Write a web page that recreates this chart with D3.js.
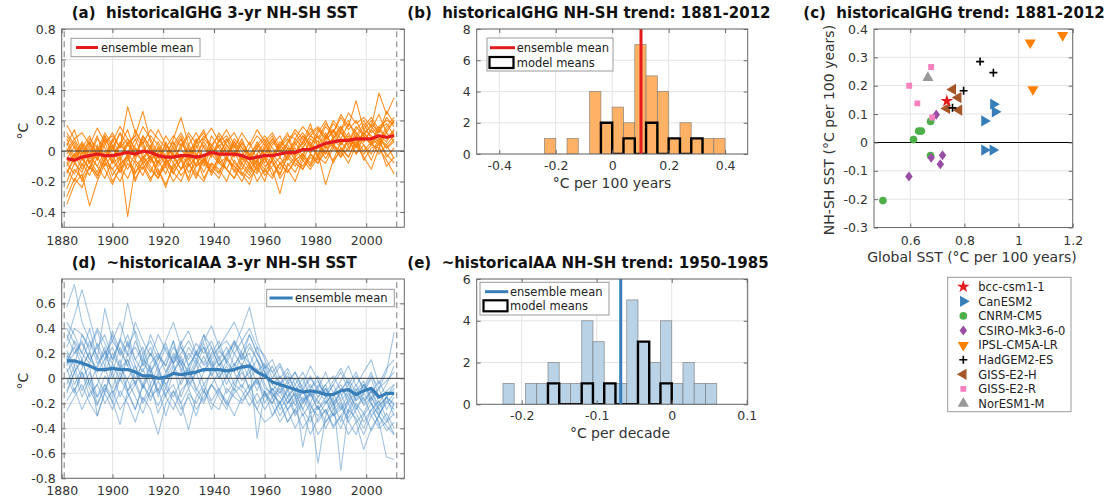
<!DOCTYPE html>
<html><head><meta charset="utf-8">
<script src="https://cdn.jsdelivr.net/npm/d3@7"></script>
<style>body{margin:0;background:#fff}svg{display:block}</style>
</head><body><svg id="c" width="1111" height="499"></svg>
<script>
// ---------- DATA ----------
const years = [1882,1885,1888,1891,1894,1897,1900,1903,1906,1909,1912,1915,1918,1921,1924,1927,1930,1933,1936,1939,1942,1945,1948,1951,1954,1957,1960,1963,1966,1969,1972,1975,1978,1981,1984,1987,1990,1993,1996,1999,2002,2005,2008,2011];
// values in hundredths of °C
const ghgMean = [-5,-6,-4,-3,-2,-3,-3,-2,-1,-2,0,-1,-3,-4,-4,-3,-3,-4,-3,-1,-2,-2,-2,-3,-5,-4,-3,-3,-2,-1,-1,1,1,3,5,6,7,7,8,8,8,10,9,10];
const ghgMembers = [
[-35,-22,-15,-36,-20,-8,-12,-5,-43,-10,-4,-12,-18,-8,-15,-5,-20,-10,-6,-14,-3,-12,-18,-8,-14,-2,-10,-6,-15,-4,-10,-2,-8,3,-5,4,-2,8,3,12,5,10,2,8],
[17,8,12,4,15,6,10,2,29,12,5,14,8,2,10,3,12,5,8,15,6,10,2,12,4,14,6,12,3,10,8,16,10,15,8,20,14,25,18,22,16,38,24,35],
[-10,-2,5,-8,2,-5,8,-3,5,10,26,6,-5,2,-8,5,-2,8,-6,4,10,-2,6,-4,-8,4,-3,6,0,5,12,4,15,8,18,12,22,14,20,10,18,12,22,16],
[-25,-12,-18,-6,-14,-2,-16,-8,-4,-18,-10,-20,-6,-15,-2,-12,-8,-18,-5,-10,-15,-4,-12,-20,-10,-15,-5,-12,-28,-8,-14,-4,-10,-2,-22,-6,0,-8,4,-4,-12,2,-6,-15],
[5,-6,2,10,-3,8,0,12,4,-2,6,-8,3,-5,8,22,4,-3,6,-2,3,8,-4,5,-6,2,8,-2,4,12,-3,6,18,2,10,4,12,6,16,10,4,14,8,12],
[-8,-15,-5,-12,4,-10,-2,-14,-6,2,-8,-3,-15,-6,-12,-2,-10,-4,-14,-2,-8,-12,-1,-10,-16,-6,-12,-2,-8,-4,2,-6,4,10,2,8,16,4,12,6,14,8,4,10],
[10,2,-6,4,-4,6,-8,4,-2,8,-5,4,-8,-2,6,-6,2,-10,4,-4,8,-2,4,-8,-2,-14,2,-6,4,-2,8,2,10,6,16,10,4,12,2,14,10,6,16,22],
[-15,-5,-20,-10,-18,-4,-12,-20,-8,-15,-3,-10,-18,-6,-14,-20,-8,-16,-5,-12,-18,-6,-10,-15,-22,-8,-14,-6,-18,-10,-4,-12,-2,-6,4,-8,2,-4,8,0,6,-2,4,-5],
[0,8,-2,6,-6,4,12,2,8,-4,10,2,-4,4,-2,8,-6,2,10,4,-2,6,12,2,-4,6,-2,8,2,-6,4,10,2,14,8,18,12,6,14,20,12,16,8,14],
[-20,-8,-14,-2,-10,-18,-6,-14,-2,-8,-16,-4,-12,-22,-10,-4,-14,-8,-2,-16,-6,-12,-18,-4,-12,-6,-16,-10,-4,-12,-20,-6,-12,-4,-8,2,-4,8,-2,4,-6,6,-2,-8],
[-5,3,-10,2,-6,10,-4,4,14,-2,8,0,-8,6,-4,2,10,-2,-10,2,-6,4,-2,8,-4,2,-8,4,10,-2,6,-4,8,4,12,2,14,20,8,16,22,14,18,10],
[8,-4,6,-2,10,-6,2,12,-4,4,16,8,-2,10,2,-6,4,12,2,-4,6,14,4,-6,2,10,4,-4,6,2,-2,10,4,-4,6,14,4,10,2,12,6,16,20,18],
[-12,-20,-8,-16,-4,-12,-22,-10,-18,-6,-12,-4,-16,-10,-20,-12,-4,-14,-20,-8,-14,-4,-10,-16,-8,-20,-12,-18,-8,-14,-6,-2,-10,4,-2,8,2,-4,6,-2,4,8,-4,2],
[2,-8,4,-4,8,2,-6,6,-2,14,4,-6,2,-10,0,8,-4,4,-8,10,2,-6,6,0,-10,-2,6,-4,2,8,-2,6,12,16,10,14,8,18,12,6,14,24,12,20],
[-30,-18,-24,-10,-16,-6,-20,-12,-4,-14,-8,-18,-12,-24,-8,-16,-10,-4,-18,-8,-12,-20,-6,-14,-18,-10,-4,-16,-8,-14,-6,-10,-2,-8,0,-6,6,0,10,4,-2,8,2,6],
[-2,6,-4,-12,0,12,4,-4,6,-6,10,2,14,4,-4,2,-8,6,14,-2,4,-4,8,2,-2,-8,4,10,0,-4,6,12,4,-2,8,12,24,16,33,14,20,12,26,18],
[-14,-4,2,-8,-16,-6,4,-10,-2,-20,-6,2,-10,-4,-14,-6,-18,-2,-8,-14,-4,2,-8,-12,-2,-10,-20,-4,-12,2,-6,-2,6,-4,10,4,0,8,-2,10,4,2,12,6],
[4,14,-2,8,2,-4,6,16,8,2,-2,10,4,-6,4,12,2,-4,8,2,12,4,-4,6,-2,4,10,2,-4,6,14,8,-2,12,20,8,14,2,10,18,8,4,14,20],
[-8,-2,-12,-4,-10,0,-8,-4,-12,-2,-6,-14,-2,-8,-4,-12,-2,-10,-6,2,-8,-4,-14,-2,-6,-12,-4,-8,-16,-2,-8,-12,-4,-8,2,4,-4,2,8,-6,2,4,-10,-4],
[12,4,-4,6,-2,10,2,-6,4,10,2,-4,6,-4,2,10,-2,6,12,2,-4,8,0,-4,6,-6,2,8,-2,4,-4,2,10,6,-2,10,16,8,4,12,16,10,6,14]
];
const aaMean = [14,14,12,10,7,7,8,7,7,5,2,2,0,1,4,3,4,5,7,7,7,6,7,9,10,5,2,-3,-5,-7,-9,-11,-10,-11,-13,-13,-10,-9,-13,-10,-8,-15,-12,-12];
const aaMembers = [
[57,75,45,30,12,20,5,25,10,-5,15,8,-10,5,20,12,-2,10,25,8,15,0,20,30,12,-5,10,-15,-5,-20,-10,-25,-12,-20,-8,-22,-15,-5,-18,-12,0,-20,-10,-5],
[30,50,71,48,25,35,15,30,60,35,10,20,5,15,30,10,25,15,5,20,30,12,25,40,57,30,15,0,10,-5,5,-10,0,-8,5,-12,-2,10,-6,5,15,-5,8,15],
[-26,-15,-5,-20,-30,-12,-25,-10,-20,-35,-15,-25,-45,-20,-10,-25,-15,-30,-10,-20,-25,-8,-15,-20,-10,-25,-35,-30,-20,-35,-25,-40,-30,-45,-35,-28,-40,-25,-32,-45,-30,-40,-35,-28],
[20,5,15,-5,10,25,0,15,-10,5,20,-5,10,-15,5,15,-8,5,18,2,12,-5,10,20,5,-10,5,-12,-20,-8,-22,-10,-25,-15,-5,-20,-12,-28,-15,-5,-20,-30,-18,-25],
[10,30,20,40,15,56,30,20,35,15,25,5,15,30,45,25,10,20,35,15,25,30,20,10,25,15,0,10,-5,5,-10,-5,10,-2,-15,-5,5,-10,2,-8,5,-15,-5,10],
[-5,10,-10,5,-15,-5,-20,0,-12,-25,-5,-15,-8,-30,-10,-20,-41,-15,-5,-18,-8,-22,-12,-5,-15,-25,-10,-30,-18,-35,-25,-15,-28,-22,-35,-25,-18,-32,-20,-28,-15,-25,-35,-20],
[35,20,30,15,25,10,35,18,28,10,-5,12,20,5,15,30,10,20,12,25,10,18,28,15,20,5,12,-5,-12,-2,-15,-8,-20,-5,-12,-25,-8,-15,-5,-18,-10,-22,-15,-8],
[5,15,0,10,-30,-10,5,-15,0,10,-8,5,-12,0,12,-5,8,-10,5,15,0,10,-5,5,-8,0,-12,-20,-10,-25,-15,-30,-20,-35,-25,-40,-30,-20,-35,-28,-42,-30,-38,-45],
[15,25,10,20,5,15,25,10,30,15,5,20,10,25,12,20,30,18,25,10,22,15,30,20,12,-48,-10,-20,-5,-15,-8,-20,-10,-18,-28,-15,-74,-25,-12,-20,-10,-25,-15,-20],
[-10,5,-15,0,-20,-8,-18,-37,-10,-25,-5,-18,-2,-15,-25,-10,-2,-12,-20,-5,-15,-25,-8,-18,-10,-2,-15,-8,-25,-15,-30,-20,-12,-25,-18,-30,-22,-35,-25,-15,-30,-22,-15,-30],
[25,40,35,22,38,20,30,45,25,38,20,30,15,28,12,25,15,28,20,30,15,25,10,22,35,20,8,15,0,8,-5,5,-8,2,-12,-2,8,-5,5,-10,2,-8,-2,5],
[8,-10,5,-15,-5,10,-12,0,15,-5,8,-10,3,-8,10,-15,0,12,-5,5,-10,2,12,-2,5,15,-5,-15,-8,-20,-12,-55,-25,-68,-30,-20,-35,-15,-28,-40,-25,-35,-63,-65],
[-18,-8,-25,-12,-5,-20,-10,-25,-15,-5,-20,-10,-22,-8,-18,-30,-12,-20,-8,-25,-10,-18,-30,-15,-5,-20,-12,-22,-35,-25,-40,-28,-45,-32,-25,-38,-30,-45,-35,-57,-40,-30,-42,-35],
[12,20,28,15,8,22,12,30,18,25,12,5,18,10,25,15,5,22,10,18,25,12,5,18,28,15,5,-5,2,-10,0,-12,-5,-15,-8,-20,-10,0,-12,-5,-15,-8,5,37],
[0,-12,5,-8,-22,-5,-15,5,-10,-2,-18,-5,-28,-12,-5,-20,-8,-25,-15,-5,-12,-20,-5,-10,-22,-12,-25,-15,-30,-20,-12,-25,-35,-22,-40,-28,-20,-35,-45,-30,-20,-38,-28,-40],
[22,10,35,25,40,28,15,32,20,45,30,18,35,22,12,28,38,20,30,42,25,35,45,30,40,25,18,5,12,-2,5,-8,2,-12,-5,2,-10,-2,-18,-5,-12,-2,-15,-5],
[40,28,15,30,18,5,20,8,15,0,12,25,8,-5,5,18,2,15,28,12,0,15,5,-8,10,25,5,-10,-2,-15,-5,-18,-8,-2,-15,-5,-18,-10,-25,-12,-20,-30,-15,-22],
[-12,5,15,-5,-15,2,-8,10,-2,-15,-28,-10,5,-5,-15,-2,10,-8,-18,-5,5,-12,-2,8,-10,0,-20,-8,-15,-25,-18,-10,-22,-30,-20,-12,-25,-18,-8,-22,-15,-28,-20,-12],
[45,35,20,12,28,15,38,22,10,30,15,35,20,10,30,5,20,12,35,25,10,20,30,15,35,20,10,5,-5,2,-10,0,-15,-8,-20,-12,-5,-20,-10,-2,-18,-8,-25,-15],
[18,-5,8,22,0,-12,12,-2,20,5,-8,10,-15,2,18,8,-5,5,-12,8,18,2,-10,12,0,8,-8,-12,-20,-10,-28,-18,-12,-25,-15,-30,-25,-12,-22,-35,-25,-18,-32,-45]
];
const trendPeriod = [1881, 2012];

const ghgEdges = [-0.24,-0.20,-0.16,-0.12,-0.08,-0.04,0,0.04,0.08,0.12,0.16,0.20,0.24,0.28,0.32,0.36,0.40];
const ghgCounts = [1,0,1,0,4,2,3,2,7,5,4,1,2,1,1,1];
const ghgModelEdges = [-0.04,0,0.04,0.08,0.12,0.16,0.20,0.24,0.28,0.32];
const ghgModelCounts = [2,0,1,0,2,0,1,0,1];
const ghgTrendMean = 0.102;

const aaEdges = [-0.225,-0.21,-0.195,-0.18,-0.165,-0.15,-0.135,-0.12,-0.105,-0.09,-0.075,-0.06,-0.045,-0.03,-0.015,0,0.015,0.03,0.045,0.06];
const aaCounts = [1,0,1,1,2,1,1,4,3,1,1,5,3,2,4,1,2,1,1];
const aaModelEdges = [-0.165,-0.15,-0.135,-0.12,-0.105,-0.09,-0.075,-0.06,-0.045,-0.03,-0.015,0];
const aaModelCounts = [1,0,0,1,0,1,0,0,3,0,1];
const aaTrendMean = -0.068;

const modelNames = ["bcc-csm1-1","CanESM2","CNRM-CM5","CSIRO-Mk3-6-0","IPSL-CM5A-LR","HadGEM2-ES","GISS-E2-H","GISS-E2-R","NorESM1-M"];
const globalSST = [
 [0.735],
 [0.907,0.913,0.874,0.874,0.905],
 [0.675,0.631,0.641,0.612,0.675,0.499],
 [0.696,0.677,0.719,0.711,0.595],
 [1.043,1.163,1.053],
 [0.858,0.907,0.797,0.756],
 [0.757,0.777,0.735,0.780],
 [0.677,0.596,0.626,0.681],
 [0.665]
];
const nhshSST = [
 [0.146],
 [0.135,0.108,0.076,-0.027,-0.027],
 [0.074,0.040,0.040,0.010,-0.046,-0.205],
 [0.098,-0.054,-0.045,-0.077,-0.120],
 [0.352,0.378,0.187],
 [0.285,0.246,0.182,0.122],
 [0.187,0.158,0.120,0.114],
 [0.266,0.200,0.138,0.088],
 [0.228]
];
const modelColors = ["#e41a1c","#377eb8","#4daf4a","#984ea3","#ff7f00","#000000","#a65628","#f781bf","#999999"];
const modelMarkers = ["star","right","circle","diamond","down","plus","left","square","up"];

// ---------- DRAWING ----------
const FONT = '"DejaVu Sans", Verdana, sans-serif';
const TICKC = '#333', FRAMEC = '#6a6a6a', GRIDC = '#e4e4e4';
const svg = d3.select('#c');
svg.append('rect').attr('width',1111).attr('height',499).attr('fill','#fff');
const defs = svg.append('defs');
let clipN = 0;
const fmt = d => String(Math.round(d*100)/100);

function panel(x, y, xv, yv, xfmt, yfmt, padB, padL) {
  const g = svg.append('g');
  const [x0,x1] = x.range(), [y0,y1] = y.range();
  g.append('g').selectAll('line').data(xv).join('line')
    .attr('x1',d=>x(d)).attr('x2',d=>x(d)).attr('y1',y1).attr('y2',y0)
    .attr('stroke',GRIDC).attr('stroke-width',1);
  g.append('g').selectAll('line').data(yv).join('line')
    .attr('y1',d=>y(d)).attr('y2',d=>y(d)).attr('x1',x0).attr('x2',x1)
    .attr('stroke',GRIDC).attr('stroke-width',1);
  const id = 'clip'+(clipN++);
  defs.append('clipPath').attr('id',id).append('rect')
    .attr('x',x0).attr('y',y1).attr('width',x1-x0).attr('height',y0-y1);
  const plot = g.append('g').attr('clip-path',`url(#${id})`);
  const top = svg.append('g');
  const style = (ax, showText) => {
    ax.attr('font-family',FONT).attr('font-size',12.5);
    ax.select('.domain').remove();
    ax.selectAll('line').attr('stroke',FRAMEC);
    ax.selectAll('text').attr('fill',TICKC);
    if (!showText) ax.selectAll('text').remove();
  };
  top.append('g').attr('transform',`translate(0,${y0})`)
    .call(d3.axisBottom(x).tickValues(xv).tickFormat(xfmt).tickSizeInner(-4).tickSizeOuter(0).tickPadding(padB))
    .call(a=>style(a,true));
  top.append('g').attr('transform',`translate(0,${y1})`)
    .call(d3.axisTop(x).tickValues(xv).tickSizeInner(-4).tickSizeOuter(0))
    .call(a=>style(a,false));
  top.append('g').attr('transform',`translate(${x0},0)`)
    .call(d3.axisLeft(y).tickValues(yv).tickFormat(yfmt).tickSizeInner(-4).tickSizeOuter(0).tickPadding(padL))
    .call(a=>style(a,true));
  top.append('g').attr('transform',`translate(${x1},0)`)
    .call(d3.axisRight(y).tickValues(yv).tickSizeInner(-4).tickSizeOuter(0))
    .call(a=>style(a,false));
  top.append('rect').attr('x',x0).attr('y',y1).attr('width',x1-x0).attr('height',y0-y1)
    .attr('fill','none').attr('stroke',FRAMEC).attr('stroke-width',1);
  return {plot, top};
}

function title(x, y, txt) {
  svg.append('text').attr('x',x).attr('y',y).attr('font-family',FONT)
    .attr('font-size',15).attr('font-weight','bold').attr('fill','#111')
    .style('white-space','pre').text(txt);
}
function label(x, y, txt, rot) {
  const t = svg.append('text').attr('font-family',FONT).attr('font-size',14)
    .attr('fill','#333').attr('text-anchor','middle').text(txt);
  if (rot) t.attr('transform',`translate(${x},${y}) rotate(-90)`);
  else t.attr('x',x).attr('y',y);
}
function legendBox(x, y, w, h) {
  svg.append('rect').attr('x',x).attr('y',y).attr('width',w).attr('height',h)
    .attr('fill','#fff').attr('stroke','#9a9a9a').attr('stroke-width',1);
}
function legendText(x, y, txt) {
  svg.append('text').attr('x',x).attr('y',y).attr('font-family',FONT)
    .attr('font-size',11.5).attr('fill','#222').text(txt);
}

function tsPanel(members, mean, yDomain, yRange, yv, memberColor, memberOpacity, meanColor, padB) {
  const x = d3.scaleLinear().domain([1880,2015]).range([61.7,404.3]);
  const y = d3.scaleLinear().domain(yDomain).range(yRange);
  const xv = [1880,1900,1920,1940,1960,1980,2000];
  const p = panel(x, y, xv, yv, d=>String(d), d=>d===0?'0':d.toFixed(1), padB, 6);
  const line = d3.line().defined((d,i)=>i<years.length).x((d,i)=>x(years[i])).y(d=>y(d/100));
  p.plot.append('g').selectAll('path').data(members).join('path')
    .attr('d',line).attr('fill','none').attr('stroke',memberColor)
    .attr('stroke-opacity',memberOpacity).attr('stroke-width',1.1).attr('stroke-linejoin','round');
  p.plot.append('line').attr('x1',x.range()[0]).attr('x2',x.range()[1])
    .attr('y1',y(0)).attr('y2',y(0)).attr('stroke','#3a3a3a').attr('stroke-width',1);
  p.plot.append('g').selectAll('line').data(trendPeriod).join('line')
    .attr('x1',d=>x(d)).attr('x2',d=>x(d)).attr('y1',yRange[0]).attr('y2',yRange[1])
    .attr('stroke','#9a9a9a').attr('stroke-width',1.3).attr('stroke-dasharray','6,4');
  p.plot.append('path').datum(mean).attr('d',line).attr('fill','none')
    .attr('stroke',meanColor).attr('stroke-width',3.2).attr('stroke-linejoin','round');
  return {x,y};
}

function histPanel(edges, counts, mEdges, mCounts, meanVal, xDomain, xRange, yMax, yRange, xv, yv, fill, meanColor, padB) {
  const x = d3.scaleLinear().domain(xDomain).range(xRange);
  const y = d3.scaleLinear().domain([0,yMax]).range(yRange);
  const p = panel(x, y, xv, yv, fmt, d=>String(d), padB, 6);
  const bins = counts.map((c,i)=>({x0:edges[i], x1:edges[i+1], c})).filter(b=>b.c>0);
  p.plot.append('g').selectAll('rect').data(bins).join('rect')
    .attr('x',b=>x(b.x0)).attr('width',b=>x(b.x1)-x(b.x0))
    .attr('y',b=>y(b.c)).attr('height',b=>y(0)-y(b.c))
    .attr('fill',fill).attr('stroke','#6f6f6f').attr('stroke-opacity',0.7).attr('stroke-width',0.8);
  const pts = [[mEdges[0],0]];
  mCounts.forEach((c,i)=>{ pts.push([mEdges[i],c]); pts.push([mEdges[i+1],c]); });
  pts.push([mEdges[mEdges.length-1],0]);
  p.plot.append('path').datum(pts)
    .attr('d', d3.line().x(d=>x(d[0])).y(d=>y(d[1])))
    .attr('fill','none').attr('stroke','#000').attr('stroke-width',2.4).attr('stroke-linejoin','miter');
  p.plot.append('line').attr('x1',x(meanVal)).attr('x2',x(meanVal))
    .attr('y1',yRange[0]).attr('y2',yRange[1]).attr('stroke',meanColor).attr('stroke-width',3);
  return {x,y};
}

// (a)
tsPanel(ghgMembers, ghgMean, [-0.5,0.8], [227.25,29], [-0.4,-0.2,0,0.2,0.4,0.6,0.8], '#ff7f00', 0.85, '#e41a1c', 9);
title(71.7, 18, '(a)  historicalGHG 3-yr NH-SH SST');
label(27.5, 131, '°C', true);
legendBox(71, 38.3, 129, 18.4);
svg.append('line').attr('x1',76).attr('x2',98).attr('y1',47.5).attr('y2',47.5).attr('stroke','#e41a1c').attr('stroke-width',3);
legendText(101, 51.7, 'ensemble mean');

// (d)
tsPanel(aaMembers, aaMean, [-0.8,0.795], [478.3,279], [-0.8,-0.6,-0.4,-0.2,0,0.2,0.4,0.6], '#4a8cc6', 0.5, '#377eb8', 8);
title(71.7, 268, '(d)  ~historicalAA 3-yr NH-SH SST');
label(27.5, 381, '°C', true);
legendBox(266.7, 289.3, 127.6, 17.4);
svg.append('line').attr('x1',269.5).attr('x2',292.7).attr('y1',298).attr('y2',298).attr('stroke','#377eb8').attr('stroke-width',3);
legendText(295, 302.2, 'ensemble mean');

// (b)
histPanel(ghgEdges, ghgCounts, ghgModelEdges, ghgModelCounts, ghgTrendMean,
  [-0.48,0.48], [476.7,747.7], 8, [154,29], [-0.4,-0.2,0,0.2,0.4], [0,2,4,6,8], '#ffb266', '#e41a1c', 7.5);
title(407.3, 18, '(b)  historicalGHG NH-SH trend: 1881-2012');
label(612, 188.3, '°C per 100 years', false);
legendBox(487, 38, 126, 33);
svg.append('line').attr('x1',490).attr('x2',515).attr('y1',47.7).attr('y2',47.7).attr('stroke','#e41a1c').attr('stroke-width',3);
legendText(516.7, 51.9, 'ensemble mean');
svg.append('rect').attr('x',489.5).attr('y',57).attr('width',24).attr('height',11).attr('fill','none').attr('stroke','#000').attr('stroke-width',2.2);
legendText(516.7, 66.6, 'model means');

// (e)
histPanel(aaEdges, aaCounts, aaModelEdges, aaModelCounts, aaTrendMean,
  [-0.26,0.1013], [476.7,747.7], 6, [404.3,279], [-0.2,-0.1,0,0.1], [0,2,4,6], '#b9d2e6', '#377eb8', 7);
title(407.3, 268, '(e)  ~historicalAA NH-SH trend: 1950-1985');
label(620, 438.3, '°C per decade', false);
legendBox(480, 282.3, 129, 32.7);
svg.append('line').attr('x1',485).attr('x2',508.3).attr('y1',291.7).attr('y2',291.7).attr('stroke','#377eb8').attr('stroke-width',3);
legendText(510, 295.9, 'ensemble mean');
svg.append('rect').attr('x',483.5).attr('y',300.3).attr('width',24).attr('height',11).attr('fill','none').attr('stroke','#000').attr('stroke-width',2.2);
legendText(510, 310, 'model means');

// (c)
function marker(sel, kind, color) {
  if (kind === 'plus') {
    sel.append('path').attr('d','M-4,0H4M0,-4V4').attr('stroke',color).attr('stroke-width',1.6).attr('fill','none');
    return;
  }
  let sym, size = 50, rot = 0, sy = 1;
  if (kind==='star') { sym = d3.symbolStar; size = 50; }
  else if (kind==='circle') { sym = d3.symbolCircle; size = 46; }
  else if (kind==='square') { sym = d3.symbolSquare; size = 34; }
  else if (kind==='diamond') { sym = d3.symbolSquare; size = 28; rot = 45; sy = 1.35; }
  else { sym = d3.symbolTriangle; size = 54; rot = {up:0,right:90,down:180,left:-90}[kind]; }
  const tr = kind==='diamond' ? `scale(1,${sy}) rotate(${rot})` : `rotate(${rot})`;
  sel.append('path').attr('d', d3.symbol(sym, size)()).attr('transform', tr).attr('fill', color);
}
{
  const x = d3.scaleLinear().domain([0.466,1.2]).range([874,1072.7]);
  const y = d3.scaleLinear().domain([-0.3,0.4]).range([227.5,29]);
  const p = panel(x, y, [0.6,0.8,1,1.2], [-0.3,-0.2,-0.1,0,0.1,0.2,0.3,0.4], fmt, d=>d===0?'0':d.toFixed(1), 8.6, 6);
  p.plot.append('line').attr('x1',874).attr('x2',1072.7).attr('y1',y(0)).attr('y2',y(0)).attr('stroke','#000').attr('stroke-width',1.1);
  const order = [2,3,7,8,6,0,5,1,4];
  order.forEach(m => {
    globalSST[m].forEach((gx,i) => {
      const s = p.plot.append('g').attr('transform',`translate(${x(gx)},${y(nhshSST[m][i])})`);
      marker(s, modelMarkers[m], modelColors[m]);
    });
  });
  title(803.3, 18, '(c)  historicalGHG trend: 1881-2012');
  label(834, 130, 'NH-SH SST (°C per 100 years)', true);
  label(972, 262, 'Global SST (°C per 100 years)', false);
  legendBox(947.7, 277.3, 123.3, 134.4);
  modelNames.forEach((n,i) => {
    const yy = 286.7 + i*14.6;
    const s = svg.append('g').attr('transform',`translate(963.3,${yy})`);
    marker(s, modelMarkers[i], modelColors[i]);
    legendText(978.3, yy+4.2, n);
  });
}
</script></body></html>
